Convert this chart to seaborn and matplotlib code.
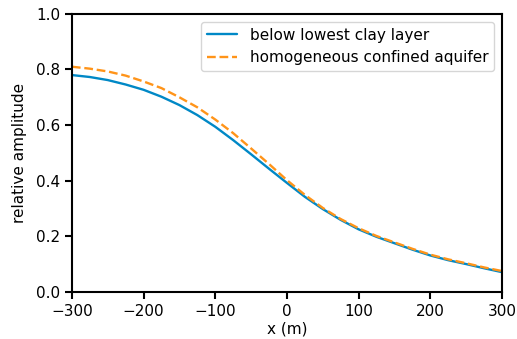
import numpy as np
import pandas as pd
import matplotlib
matplotlib.use('Agg')
import matplotlib.pyplot as plt
import seaborn as sns

# distance from the river (m)
x_m = [-300, -275, -250, -225, -200, -175, -150, -125, -100, -75, -50, -25,
       0, 25, 50, 75, 100, 125, 150, 175, 200, 225, 250, 275, 300]

# relative amplitude
clay = [0.780, 0.773, 0.762, 0.746, 0.727, 0.702, 0.672, 0.636, 0.594, 0.546,
        0.495, 0.443, 0.392, 0.342, 0.298, 0.259, 0.225, 0.198, 0.175, 0.152,
        0.131, 0.114, 0.100, 0.085, 0.071]
homog = [0.810, 0.803, 0.793, 0.778, 0.757, 0.733, 0.700, 0.664, 0.620, 0.571,
         0.516, 0.460, 0.402, 0.349, 0.302, 0.262, 0.229, 0.201, 0.178, 0.155,
         0.134, 0.117, 0.103, 0.088, 0.075]

labels = ['below lowest clay layer', 'homogeneous confined aquifer']

df = pd.DataFrame({
    'x': x_m * 2,
    'amp': clay + homog,
    'case': [labels[0]] * len(x_m) + [labels[1]] * len(x_m),
})

sns.set_style('ticks')
plt.rcParams['font.family'] = ['DejaVu Sans']
plt.rcParams['text.color'] = 'black'
plt.rcParams['axes.labelcolor'] = 'black'
plt.rcParams['xtick.color'] = 'black'
plt.rcParams['ytick.color'] = 'black'

fig = plt.figure(figsize=(5.17, 3.39), dpi=100)
ax = fig.add_axes([0.139, 0.139, 0.832, 0.82])

sns.lineplot(data=df, x='x', y='amp', hue='case', style='case',
             palette=['#0088C6', '#FF9419'], dashes=[(), (3.7, 1.6)],
             linewidth=1.7, ax=ax)

ax.set_xlim(-300, 300)
ax.set_ylim(0, 1)
ax.set_xlabel('x (m)', fontsize=11, labelpad=2)
ax.set_ylabel('relative amplitude', fontsize=11, labelpad=6)
ax.tick_params(labelsize=11, width=1.5, length=5, color='black')
for s in ax.spines.values():
    s.set_linewidth(1.5)
    s.set_color('black')

ax.legend(title=None, loc='upper right', fontsize=11, frameon=True)

fig.savefig('out.png', dpi=100)
